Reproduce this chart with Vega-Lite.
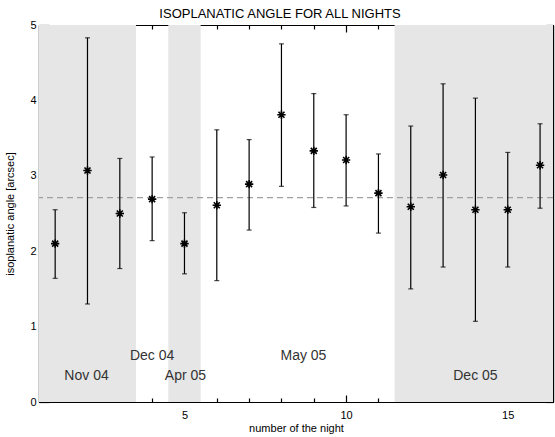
{
  "$schema": "https://vega.github.io/schema/vega-lite/v6.json",
  "width": 514,
  "height": 377,
  "autosize": "none",
  "padding": {"left": 39, "top": 25, "right": 2, "bottom": 35},
  "background": "white",
  "config": {
    "view": {"stroke": null},
    "font": "Liberation Sans",
    "axis": {"labelFont": "Liberation Sans", "titleFont": "Liberation Sans", "labelColor": "#000", "titleColor": "#000", "domainColor": "#000", "domainWidth": 1.2, "tickColor": "#000", "tickWidth": 1.2, "grid": false, "titleFontWeight": "normal", "labelFontSize": 11, "titleFontSize": 11, "zindex": 1, "labelFlush": false, "labelOverlap": false}
  },
  "title": {"text": "ISOPLANATIC ANGLE FOR ALL NIGHTS", "fontSize": 13, "fontWeight": "normal", "font": "Liberation Sans", "color": "#000", "offset": -2, "dx": -16},
  "datasets": {
    "nights": [
      {"night": 1, "angle": 2.10, "low": 1.64, "high": 2.55},
      {"night": 2, "angle": 3.07, "low": 1.30, "high": 4.83},
      {"night": 3, "angle": 2.50, "low": 1.77, "high": 3.23},
      {"night": 4, "angle": 2.69, "low": 2.14, "high": 3.25},
      {"night": 5, "angle": 2.10, "low": 1.70, "high": 2.51},
      {"night": 6, "angle": 2.61, "low": 1.61, "high": 3.61},
      {"night": 7, "angle": 2.89, "low": 2.28, "high": 3.48},
      {"night": 8, "angle": 3.81, "low": 2.86, "high": 4.75},
      {"night": 9, "angle": 3.33, "low": 2.58, "high": 4.09},
      {"night": 10, "angle": 3.21, "low": 2.60, "high": 3.81},
      {"night": 11, "angle": 2.77, "low": 2.24, "high": 3.29},
      {"night": 12, "angle": 2.59, "low": 1.50, "high": 3.66},
      {"night": 13, "angle": 3.01, "low": 1.79, "high": 4.22},
      {"night": 14, "angle": 2.55, "low": 1.07, "high": 4.03},
      {"night": 15, "angle": 2.55, "low": 1.79, "high": 3.31},
      {"night": 16, "angle": 3.14, "low": 2.57, "high": 3.69}
    ],
    "regions": [
      {"start": 0.5, "end": 3.5},
      {"start": 4.5, "end": 5.5},
      {"start": 11.5, "end": 16.5}
    ],
    "labels": [
      {"label": "Nov 04", "x": 1.97, "y": 0.345},
      {"label": "Dec 04", "x": 4.0, "y": 0.61},
      {"label": "Apr 05", "x": 5.03, "y": 0.345},
      {"label": "May 05", "x": 8.68, "y": 0.61},
      {"label": "Dec 05", "x": 14.0, "y": 0.345}
    ],
    "mean": [{"value": 2.71}]
  },
  "resolve": {"axis": {"x": "independent", "y": "independent"}},
  "layer": [
    {
      "data": {"name": "regions"},
      "mark": {"type": "rect", "color": "#e6e6e6", "clip": true},
      "encoding": {
        "x": {"field": "start", "type": "quantitative", "scale": {"domain": [0.5, 16.4], "nice": false, "zero": false}, "axis": null},
        "x2": {"field": "end"}
      }
    },
    {
      "data": {"name": "mean"},
      "mark": {"type": "rule", "color": "#a0a0a0", "strokeDash": [6, 4], "strokeWidth": 1.2},
      "encoding": {
        "y": {"field": "value", "type": "quantitative", "scale": {"domain": [0, 5], "nice": false}, "axis": null}
      }
    },
    {
      "data": {"name": "nights"},
      "mark": {"type": "rule", "color": "#000", "strokeWidth": 1.2},
      "encoding": {
        "x": {"field": "night", "type": "quantitative", "title": "number of the night",
          "axis": {"orient": "bottom", "values": [5, 10, 15], "format": "d", "tickSize": -7, "labelPadding": 14, "titlePadding": 2}},
        "y": {"field": "low", "type": "quantitative", "title": "isoplanatic angle [arcsec]",
          "axis": {"orient": "left", "values": [0, 1, 2, 3, 4, 5], "format": "d", "tickSize": -10, "labelPadding": 13, "titlePadding": 14}},
        "y2": {"field": "high"}
      }
    },
    {
      "data": {"name": "nights"},
      "mark": {"type": "tick", "color": "#000", "orient": "horizontal", "size": 5, "thickness": 1.2},
      "encoding": {
        "x": {"field": "night", "type": "quantitative",
          "axis": {"orient": "top", "values": [5, 10, 15], "labels": false, "title": null, "tickSize": -7}},
        "y": {"field": "high", "type": "quantitative",
          "axis": {"orient": "right", "values": [0, 1, 2, 3, 4, 5], "labels": false, "title": null, "tickSize": -7}}
      }
    },
    {
      "data": {"name": "nights"},
      "mark": {"type": "tick", "color": "#000", "orient": "horizontal", "size": 5, "thickness": 1.2},
      "encoding": {
        "x": {"field": "night", "type": "quantitative",
          "axis": {"orient": "bottom", "values": [1,2,3,4,6,7,8,9,11,12,13,14,16], "labels": false, "title": null, "tickSize": -4}},
        "y": {"field": "low", "type": "quantitative",
          "axis": {"orient": "left", "values": [0.1,0.2,0.3,0.4,0.5,0.6,0.7,0.8,0.9,1.1,1.2,1.3,1.4,1.5,1.6,1.7,1.8,1.9,2.1,2.2,2.3,2.4,2.5,2.6,2.7,2.8,2.9,3.1,3.2,3.3,3.4,3.5,3.6,3.7,3.8,3.9,4.1,4.2,4.3,4.4,4.5,4.6,4.7,4.8,4.9], "labels": false, "title": null, "tickSize": -5}}
      }
    },
    {
      "data": {"name": "nights"},
      "mark": {"type": "point", "shape": "M-1,0L1,0M0,-1L0,1M-0.72,-0.72L0.72,0.72M-0.72,0.72L0.72,-0.72", "size": 70, "filled": false, "stroke": "#000", "strokeWidth": 1.6, "opacity": 1},
      "encoding": {
        "x": {"field": "night", "type": "quantitative",
          "axis": {"orient": "top", "values": [1,2,3,4,6,7,8,9,11,12,13,14,16], "labels": false, "title": null, "tickSize": -4}},
        "y": {"field": "angle", "type": "quantitative",
          "axis": {"orient": "right", "values": [0.1,0.2,0.3,0.4,0.5,0.6,0.7,0.8,0.9,1.1,1.2,1.3,1.4,1.5,1.6,1.7,1.8,1.9,2.1,2.2,2.3,2.4,2.5,2.6,2.7,2.8,2.9,3.1,3.2,3.3,3.4,3.5,3.6,3.7,3.8,3.9,4.1,4.2,4.3,4.4,4.5,4.6,4.7,4.8,4.9], "labels": false, "title": null, "tickSize": -3}}
      }
    },
    {
      "data": {"name": "labels"},
      "mark": {"type": "text", "fontSize": 14, "color": "#333", "font": "Liberation Sans", "baseline": "middle", "align": "center"},
      "encoding": {
        "x": {"field": "x", "type": "quantitative", "axis": null},
        "y": {"field": "y", "type": "quantitative", "axis": null},
        "text": {"field": "label"}
      }
    }
  ]
}
